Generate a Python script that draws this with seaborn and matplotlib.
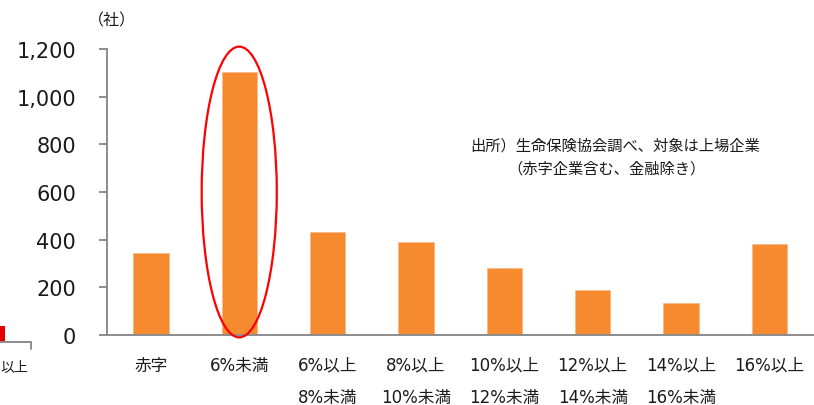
import matplotlib
matplotlib.use("Agg")
import matplotlib.pyplot as plt
from matplotlib.patches import Ellipse, Rectangle
from matplotlib.lines import Line2D
import seaborn as sns
import pandas as pd

# ---- data ----
categories = ["赤字", "6%未満", "6%以上\n8%未満", "8%以上\n10%未満", "10%以上\n12%未満",
              "12%以上\n14%未満", "14%以上\n16%未満", "16%以上"]
counts = [344, 1102, 432, 392, 280, 190, 136, 380]
y_ticks = [0, 200, 400, 600, 800, 1000, 1200]
unit_label = "（社）"
note_line1 = "出所）生命保険協会調べ、対象は上場企業"
note_line2 = "（赤字企業含む、金融除き）"
highlight_index = 1

sns.set_style("white")
plt.rcParams['font.family'] = ['DejaVu Sans', 'Noto Sans CJK JP']

W, H = 814, 406
fig = plt.figure(figsize=(W / 100, H / 100), dpi=100)
ax = fig.add_axes([106.7 / W, 1 - 336 / H, (813.5 - 106.7) / W, (336 - 50) / H])

df = pd.DataFrame({"cat": categories, "n": counts})
sns.barplot(data=df, x="cat", y="n", order=categories, color="#F58A2E",
            saturation=1, width=0.4, ax=ax, edgecolor="#F9B98A", linewidth=0.6)

ax.set_xlim(-0.5, len(categories) - 0.5)
ax.set_ylim(0, 1200)
ax.set_yticks(y_ticks)
ax.set_yticklabels([f"{v:,}" for v in y_ticks], fontsize=15, color="#1a1a1a")
ax.set_xlabel("")
ax.set_ylabel("")

for s in ["top", "right"]:
    ax.spines[s].set_visible(False)
for s in ["left", "bottom"]:
    ax.spines[s].set_color("#8C8C8C")
    ax.spines[s].set_linewidth(1.4)

ax.tick_params(axis="y", length=6, width=1.4, color="#8C8C8C", pad=16, left=True)
ax.tick_params(axis="x", length=0, pad=15)
for lab in ax.get_xticklabels():
    lab.set_fontsize(12)
    lab.set_color("#1a1a1a")
    lab.set_linespacing(2.0)
    lab.set_verticalalignment("top")

# highlight ellipse around the 6%未満 bar
ell = Ellipse((highlight_index, 600), width=0.85, height=1220, fill=False,
              edgecolor="#FF0000", linewidth=1.6, clip_on=False, zorder=5)
ax.add_patch(ell)

# texts
cjk = ['Noto Sans CJK JP', 'DejaVu Sans']
fig.text(112 / W, 1 - 21 / H, unit_label, ha="center", va="center",
         fontsize=11.5, family=cjk, color="#1a1a1a")
fig.text(470 / W, 1 - 146 / H, note_line1, ha="left", va="center",
         fontsize=11, family=cjk, color="#1a1a1a")
fig.text(507 / W, 1 - 169 / H, note_line2, ha="left", va="center",
         fontsize=11, family=cjk, color="#1a1a1a")

# cropped fragment of neighbouring chart on the left edge
fig.add_artist(Line2D([0, 31 / W], [1 - 343 / H, 1 - 343 / H], color="#8C8C8C", lw=1.4))
fig.add_artist(Line2D([31 / W, 31 / W], [1 - 343 / H, 1 - 350 / H], color="#8C8C8C", lw=1.4))
fig.add_artist(Rectangle((0, 1 - 343 / H), 5 / W, 16 / H, facecolor="#E00000",
                         edgecolor="none", transform=fig.transFigure))
fig.text(28 / W, 1 - 368 / H, "以上", ha="right", va="center",
         fontsize=10, family=cjk, color="#1a1a1a")

fig.savefig("out.png", dpi=100)
